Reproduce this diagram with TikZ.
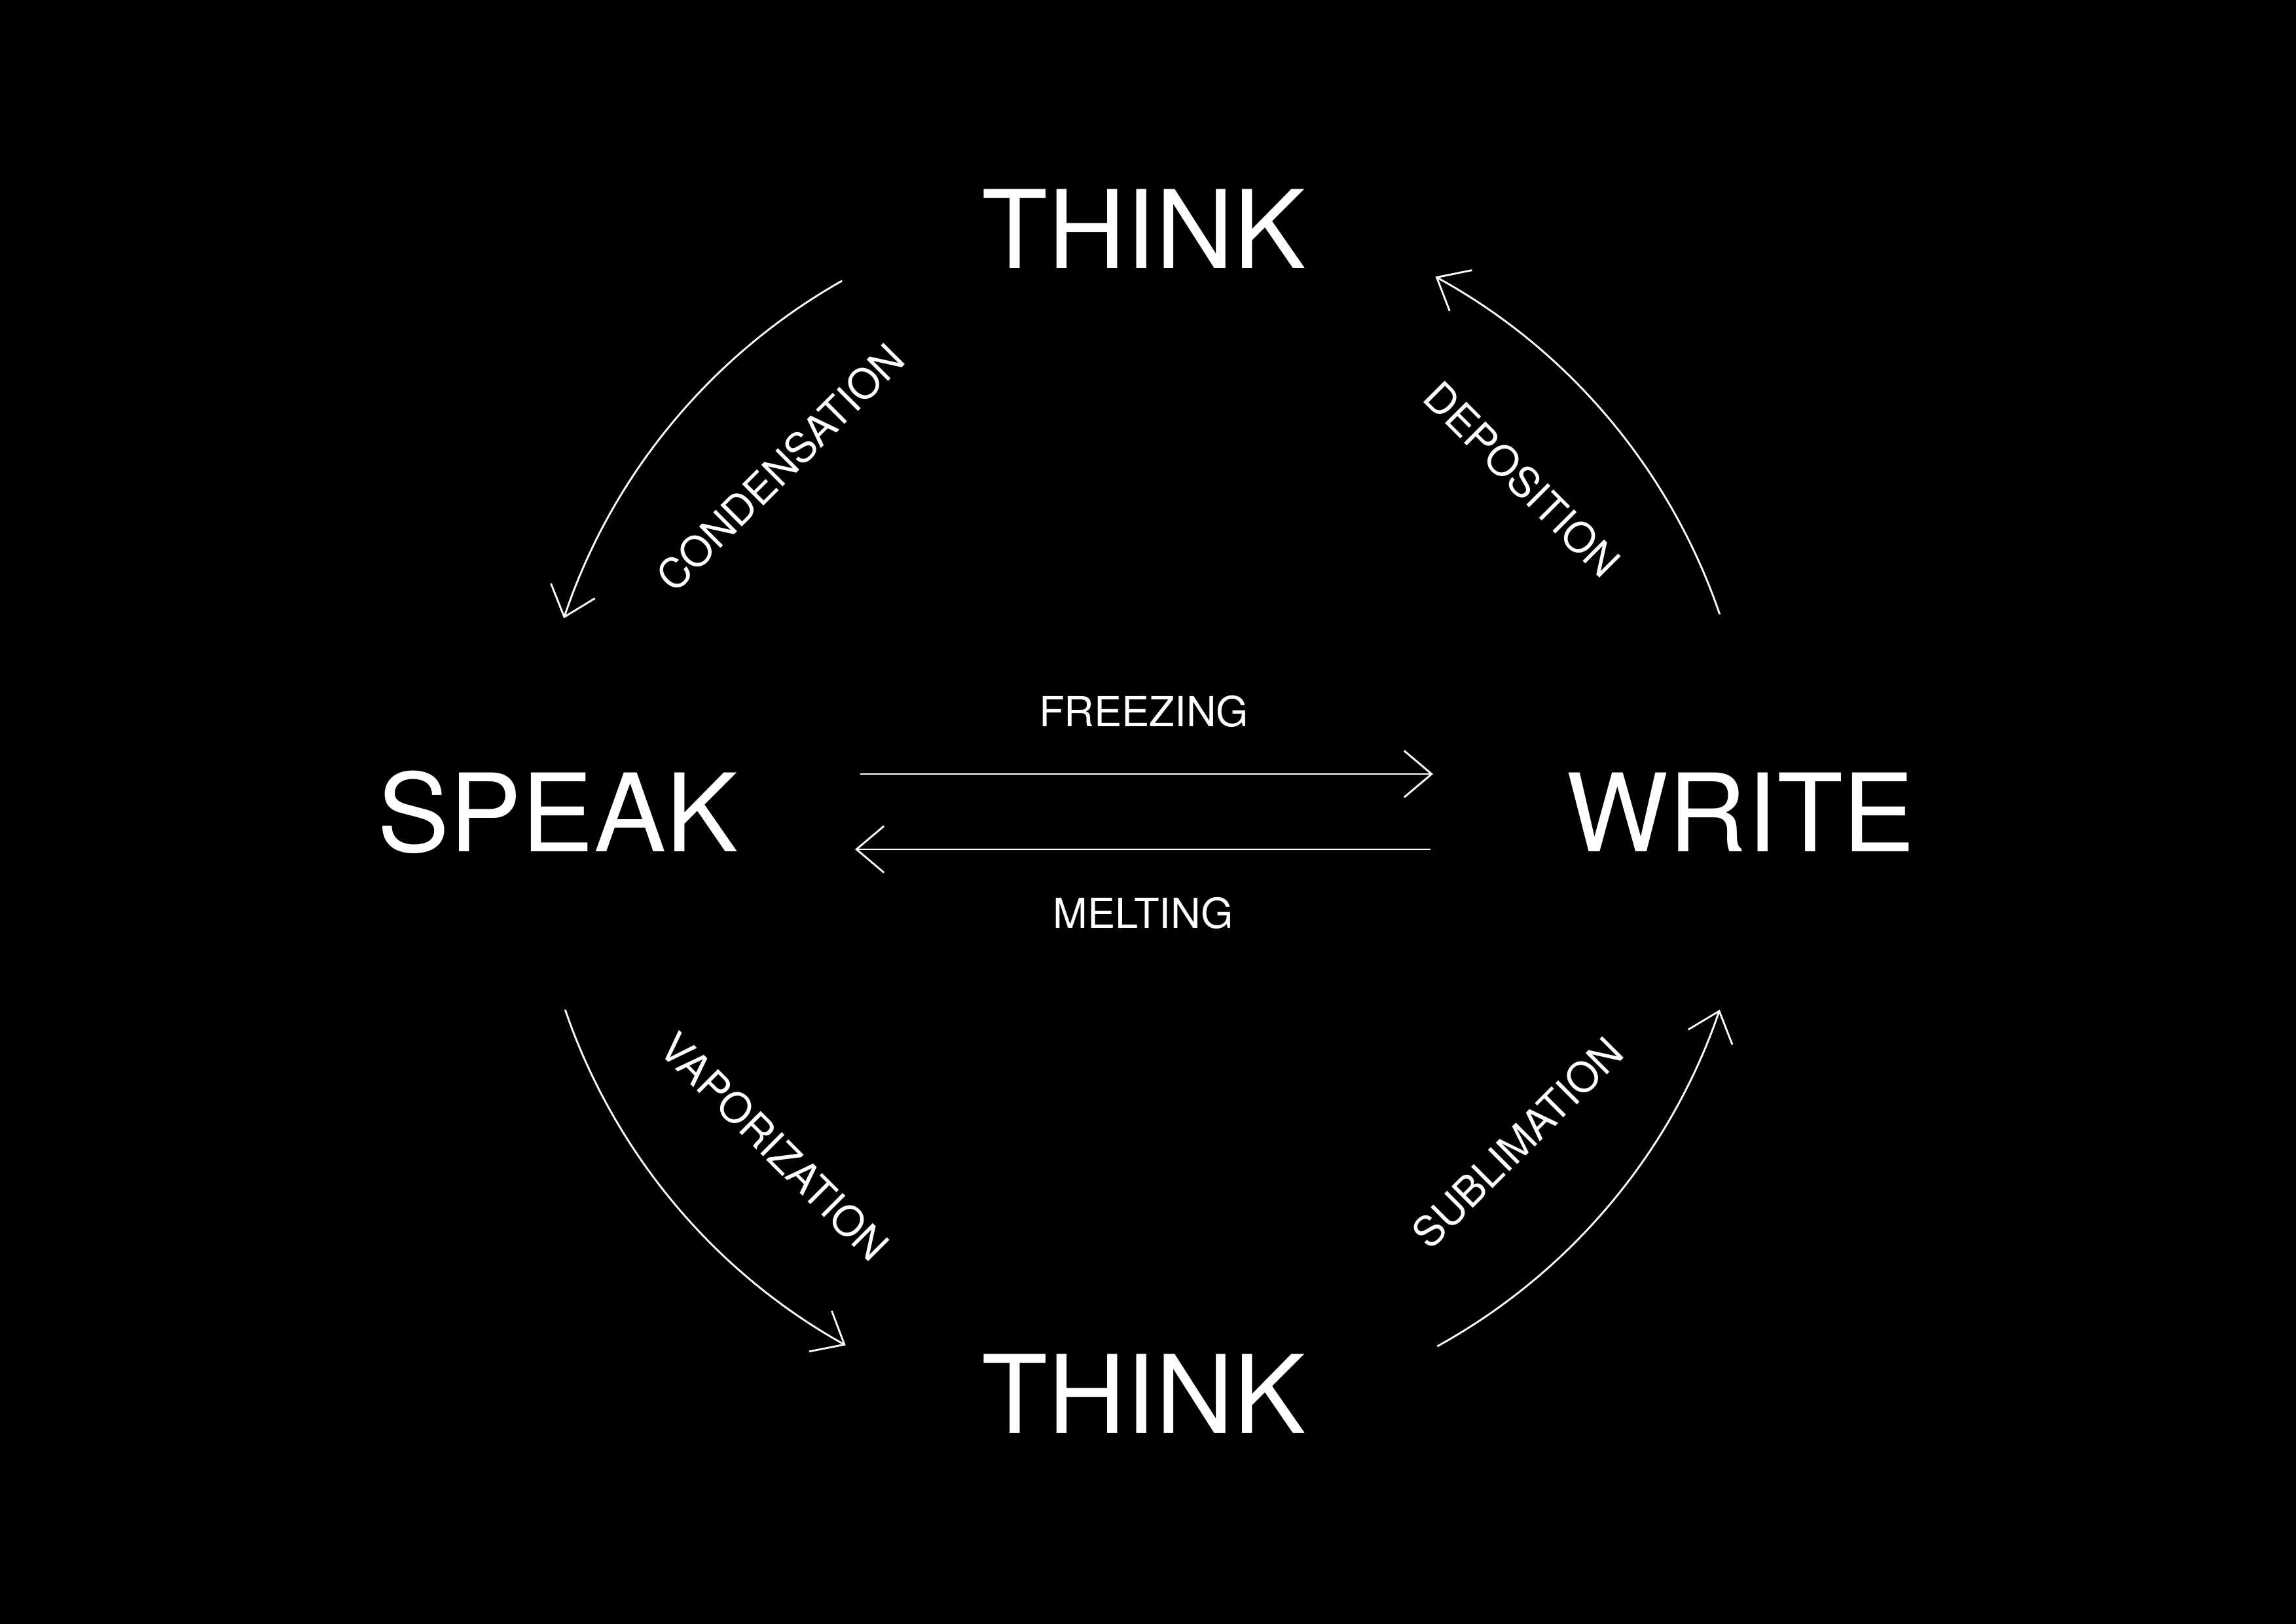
\documentclass[tikz,border=0pt]{standalone}
\usepackage{fontspec}
\setmainfont{TeX Gyre Heros}
\usetikzlibrary{arrows.meta}

\begin{document}
\begin{tikzpicture}[
  state/.style={font=\fontsize{47}{47}\selectfont, text=white, inner sep=0pt},
  change/.style={font=\fontsize{18}{18}\selectfont, text=white, inner sep=0pt},
  flow/.style={draw=white, line width=0.8pt, -{Straight Barb[length=4.2mm, width=7.1mm]}}
]

% Background
\fill[black] (-17.45,-12.40) rectangle (17.62,12.40);

% Centre of the cycle
\coordinate (O) at (0,0);

% =========== STATES ===========
\node[state] (thinktop) at (0.02,8.91) {THINK};
\node[state] (thinkbot) at (0.02,-8.88) {THINK};
\node[state] (speak) at (-8.93,0) {SPEAK};
\node[state] (write) at (9.14,0) {WRITE};

% =========== MIDDLE: freezing / melting ===========
\coordinate (frA) at (-4.31,0.58);
\coordinate (frB) at (4.44,0.58);
\coordinate (meA) at (4.40,-0.57);
\coordinate (meB) at (-4.39,-0.57);

\draw[flow] (frA) -- (frB);
\draw[flow] (meA) -- (meB);

\node[change] (freezing) at (0.02,1.54) {FREEZING};
\node[change] (melting) at (0.01,-1.54) {MELTING};

% =========== ARCS round the circle ===========
\coordinate (depA) at (18.9:9.32);
\coordinate (conA) at (119.5:9.32);
\coordinate (vapA) at (198.9:9.32);
\coordinate (subA) at (298.9:9.32);

\draw[flow] (depA) arc[start angle=18.9, end angle=61.3, radius=9.32];
\draw[flow] (conA) arc[start angle=119.5, end angle=161.5, radius=9.32];
\draw[flow] (vapA) arc[start angle=198.9, end angle=240.9, radius=9.32];
\draw[flow] (subA) arc[start angle=298.9, end angle=341.1, radius=9.32];

% Arc labels
\node[change, rotate=-45] (deposition) at (5.80,5.08) {DEPOSITION};
\node[change, rotate=45] (condensation) at (-5.53,5.26) {CONDENSATION};
\node[change, rotate=-45] (vaporization) at (-5.62,-5.11) {VAPORIZATION};
\node[change, rotate=45] (sublimation) at (5.73,-5.05) {SUBLIMATION};

\end{tikzpicture}
\end{document}
